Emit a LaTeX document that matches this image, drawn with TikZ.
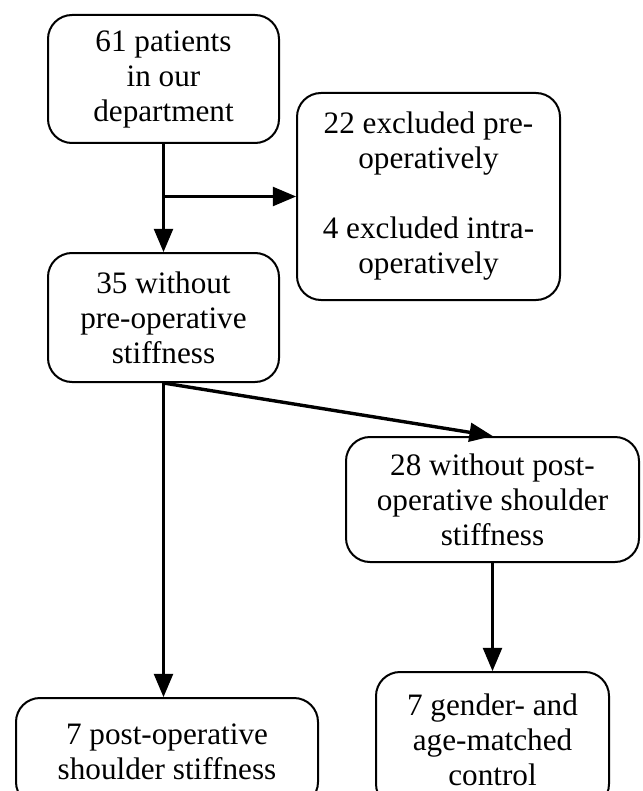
\documentclass[tikz,border=0pt]{standalone}
\usepackage{fontspec}
\setmainfont{Liberation Serif}
\usetikzlibrary{arrows}

\tikzset{
  flowbox/.style={draw, line width=1pt, rounded corners=12pt, align=center,
    inner sep=0pt, font=\fontsize{15.6}{17.5}\selectfont},
  flowline/.style={line width=1.7pt}
}

\begin{document}
\begin{tikzpicture}[line cap=butt,line join=miter,>=triangle 45,x=0.5pt,y=-0.5pt]
    \clip (0,0) rectangle (642,791);
    \fill[white] (0,0) rectangle (642,791);
    % boxes
    \node[flowbox, minimum width=115.5pt, minimum height=64pt] (patients) at (163.5,79) {61 patients\\in our\\department};
    \node[flowbox, minimum width=131.5pt, minimum height=103.5pt] (excluded) at (428.5,196.5) {22 excluded pre-\\operatively\\[17.5pt]4 excluded intra-\\operatively};
    \node[flowbox, minimum width=115.5pt, minimum height=64.5pt] (nopre) at (163.5,317.5) {35 without\\pre-operative\\stiffness};
    \node[flowbox, minimum width=146.5pt, minimum height=62.5pt] (nopost) at (492.5,499.5) {28 without post-\\operative shoulder\\stiffness};
    \node[flowbox, minimum width=151pt, minimum height=54pt] (stiff) at (167,752) {7 post-operative\\shoulder stiffness};
    \node[flowbox, minimum width=116.5pt, minimum height=68pt] (control) at (492.5,740) {7 gender- and\\age-matched\\control};
    % connectors
    \coordinate (split) at (patients.south |- excluded.west);
    \draw[flowline,->] (patients.south) -- (nopre.north);
    \draw[flowline,->] (split) -- (excluded.west);
    \draw[flowline,->] (nopre.south) -- (nopre.south |- stiff.north);
    \draw[flowline,->] (nopre.south) -- (nopost.north);
    \draw[flowline,->] (nopost.south) -- (nopost.south |- control.north);
\end{tikzpicture}
\end{document}
